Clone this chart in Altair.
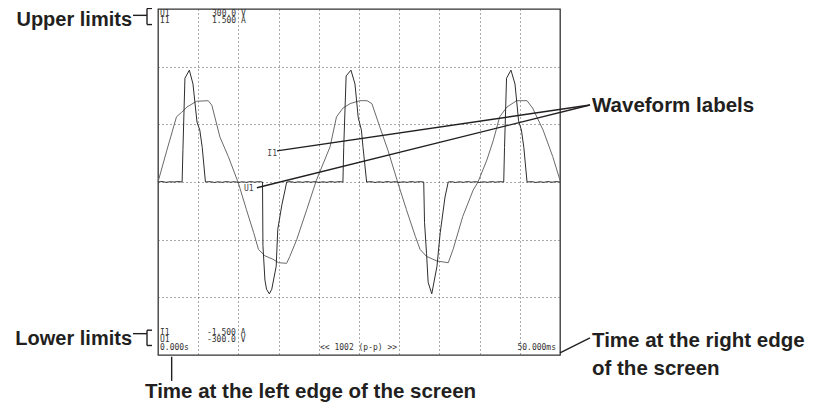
import altair as alt
import pandas as pd

# ---------------- waveform data ----------------
volt_t = [0.0, 1.1, 2.3, 2.95, 3.6, 4.8, 6.25, 6.7, 7.7, 8.75, 10.0, 11.0, 11.9, 12.5,
          13.3, 14.3, 15.0, 16.0, 16.4, 17.25, 18.5, 19.7, 21.4, 22.2, 23.0, 23.9, 25.1,
          26.0, 26.6, 27.6, 28.6, 29.85, 30.9, 32.0, 32.6, 33.4, 34.7, 36.1, 36.7, 37.9,
          39.2, 39.8, 40.9, 41.7, 42.5, 43.4, 44.6, 45.9, 46.6, 47.9, 49.1, 50.0]
volt_v = [0, 55, 113, 121, 130, 140, 141, 133, 78, 44, -2, -48, -88, -117,
          -128, -134, -140, -141, -129, -100, -48, 3, 61, 113, 128, 136, 141,
          141, 136, 95, 55, -2, -48, -94, -117, -129, -137, -140, -117, -60,
          -14, 0, 38, 72, 113, 130, 141, 141, 128, 90, 44, 3]

curr_t = [0.0, 0.5, 1.0, 1.5, 2.0, 2.5, 3.0, 3.1, 3.35, 3.9, 4.35, 4.85, 5.2, 5.5, 5.9,
          6.5, 7.0, 7.5, 8.0, 8.5, 9.0, 9.5, 10.0, 10.5, 11.0, 11.5, 12.0, 12.5, 13.0,
          13.05, 13.3, 13.5, 13.85, 14.15, 14.7, 14.9, 15.4, 15.8, 16.0,
          16.5, 17.0, 17.5, 18.0, 18.5, 19.0, 19.5, 20.0, 20.5, 21.0, 21.5, 22.0, 22.5, 23.0,
          23.1, 23.4, 24.0, 24.5, 24.9, 25.3, 25.5, 25.95,
          26.5, 27.0, 27.5, 28.0, 28.5, 29.0, 29.5, 30.0, 30.5, 31.0, 31.5, 32.0, 32.5, 33.05,
          33.15, 33.4, 33.6, 34.05, 34.7, 35.1, 35.7, 36.1,
          36.5, 37.0, 37.5, 38.0, 38.5, 39.0, 39.5, 40.0, 40.5, 41.0, 41.5, 42.0, 42.5, 43.0,
          43.1, 43.35, 43.9, 44.4, 44.85, 45.2, 45.5, 45.9,
          46.5, 47.0, 47.5, 48.0, 48.5, 49.0, 49.5, 50.0]
curr_i = [0.0, 0.004, -0.003, 0.002, 0.0, 0.004, 0.0, 0.28, 0.90, 0.97, 0.85, 0.52, 0.45, 0.30, 0.0,
          0.003, -0.004, 0.002, -0.003, 0.004, -0.002, 0.003, -0.004, 0.002, -0.003, 0.004, -0.002, 0.003, 0.0,
          -0.55, -0.85, -0.93, -0.97, -0.93, -0.73, -0.41, -0.20, -0.07, 0.0,
          0.003, -0.004, 0.002, -0.003, 0.004, -0.002, 0.003, -0.004, 0.002, -0.003, 0.004, -0.002, 0.003, 0.0,
          0.30, 0.92, 0.97, 0.85, 0.56, 0.45, 0.30, 0.0,
          0.003, -0.004, 0.002, -0.003, 0.004, -0.002, 0.003, -0.004, 0.002, -0.003, 0.004, -0.002, 0.003, 0.0,
          -0.35, -0.62, -0.87, -0.97, -0.73, -0.44, -0.13, 0.0,
          0.003, -0.004, 0.002, -0.003, 0.004, -0.002, 0.003, -0.004, 0.002, -0.003, 0.004, -0.002, 0.003, 0.0,
          0.30, 0.90, 0.97, 0.85, 0.53, 0.45, 0.30, 0.0,
          0.003, -0.004, 0.002, -0.003, 0.004, -0.002, 0.003, 0.0]

grid_x = [5, 10, 15, 20, 25, 30, 35, 40, 45]
grid_y = [-200, -100, 0, 100, 200]

# ---------------- on-screen readouts (time ms, volt scale) ----------------
screen_text = ["U1", "I1", "300.0 V", "1.500 A", "I1", "U1", "0.000s",
               "-1.500 A", "-300.0 V", "<< 1002 (p-p) >>"]
screen_x = [0.25, 0.25, 6.72, 6.72, 0.25, 0.25, 0.25, 6.09, 6.09, 20.15]
screen_y = [292, 279, 292, 279, -261, -274, -288, -261, -274, -288]

right_text = ["50.000ms"]
right_x = [49.5]
right_y = [-288]

wave_lab = ["I1", "U1"]
wave_lab_x = [14.2, 11.3]
wave_lab_y = [49, -12]

# ---------------- callouts ----------------
call_r_text = ["Upper limits", "Lower limits"]
call_r_x = [-3.23, -3.23]
call_r_y = [281.5, -272]

call_l_text = ["Waveform labels", "Time at the right edge", "of the screen",
               "Time at the left edge of the screen"]
call_l_x = [53.98, 53.98, 53.98, -1.617]
call_l_y = [131, -275.7, -324.3, -364]

seg_x = [14.8, 12.3, -3.11, -1.368, -1.368, -1.368, -3.11, -1.368, -1.368, -1.368, 1.70, 50.0]
seg_y = [54, -10, 289, 301, 301, 273, -263, -257, -257, -283.5, -303, -296.5]
seg_x2 = [53.73, 53.73, -1.368, -1.368, -0.746, -0.746, -1.368, -1.368, -0.746, -0.746, 1.70, 53.73]
seg_y2 = [133.5, 133.5, 289, 273, 301, 273, -263, -283.5, -257, -283.5, -345, -270.5]

# ---------------- chart ----------------
X = alt.Scale(domain=[0, 50], nice=False)
YV = alt.Scale(domain=[-300, 300], nice=False)
YI = alt.Scale(domain=[-1.5, 1.5], nice=False)

grid_axis_x = alt.Axis(values=grid_x, grid=True, gridDash=[1, 3], gridColor="#555",
                       gridWidth=1, labels=False, ticks=False, domain=False, title=None)
grid_axis_y = alt.Axis(values=grid_y, grid=True, gridDash=[1, 3], gridColor="#555",
                       gridWidth=1, labels=False, ticks=False, domain=False, title=None)


def xenc(field):
    return alt.X(field, scale=X, axis=grid_axis_x)


vdf = pd.DataFrame({"t": volt_t, "v": volt_v})
idf = pd.DataFrame({"t": curr_t, "i": curr_i})

volt = alt.Chart(vdf).mark_line(color="#6a6a6a", strokeWidth=1).encode(
    x=xenc("t:Q"),
    y=alt.Y("v:Q", scale=YV, axis=grid_axis_y),
)

curr = alt.Chart(idf).mark_line(color="#2e2e2e", strokeWidth=1).encode(
    x=xenc("t:Q"),
    y=alt.Y("i:Q", scale=YI, axis=None),
)

mono = "DejaVu Sans Mono"
sdf = pd.DataFrame({"x": screen_x, "y": screen_y, "text": screen_text})
screen = alt.Chart(sdf).mark_text(font=mono, fontSize=8, align="left", baseline="middle",
                                  color="#333").encode(
    x=xenc("x:Q"), y=alt.Y("y:Q", scale=YV, axis=None), text="text:N")

rdf = pd.DataFrame({"x": right_x, "y": right_y, "text": right_text})
screen_r = alt.Chart(rdf).mark_text(font=mono, fontSize=8, align="right", baseline="middle",
                                    color="#333").encode(
    x=xenc("x:Q"), y=alt.Y("y:Q", scale=YV, axis=None), text="text:N")

wdf = pd.DataFrame({"x": wave_lab_x, "y": wave_lab_y, "text": wave_lab})
wlab = alt.Chart(wdf).mark_text(font=mono, fontSize=8, align="center", baseline="middle",
                                color="#444").encode(
    x=xenc("x:Q"), y=alt.Y("y:Q", scale=YV, axis=None), text="text:N")

segdf = pd.DataFrame({"x": seg_x, "y": seg_y, "x2": seg_x2, "y2": seg_y2})
segs = alt.Chart(segdf).mark_rule(color="#231f20", strokeWidth=1.4).encode(
    x=xenc("x:Q"), x2="x2:Q",
    y=alt.Y("y:Q", scale=YV, axis=None), y2="y2:Q")

bold = "Liberation Sans"
crdf = pd.DataFrame({"x": call_r_x, "y": call_r_y, "text": call_r_text})
call_r = alt.Chart(crdf).mark_text(font=bold, fontSize=20, fontWeight="bold", align="right",
                                   baseline="middle", color="#231f20").encode(
    x=xenc("x:Q"), y=alt.Y("y:Q", scale=YV, axis=None), text="text:N")

cldf = pd.DataFrame({"x": call_l_x, "y": call_l_y, "text": call_l_text})
call_l = alt.Chart(cldf).mark_text(font=bold, fontSize=20.5, fontWeight="bold", align="left",
                                   baseline="middle", color="#231f20").encode(
    x=xenc("x:Q"), y=alt.Y("y:Q", scale=YV, axis=None), text="text:N")

chart = alt.layer(volt, curr, screen, screen_r, wlab, segs, call_r, call_l).resolve_scale(
    y="independent"
).properties(
    width=402, height=346,
    autosize=alt.AutoSizeParams(type="none"),
    padding={"left": 150, "top": 1, "right": 248, "bottom": 49},
).configure_view(stroke="#333", strokeWidth=1.3)

chart.save("out.html", embed_options={"renderer": "svg", "actions": False})
